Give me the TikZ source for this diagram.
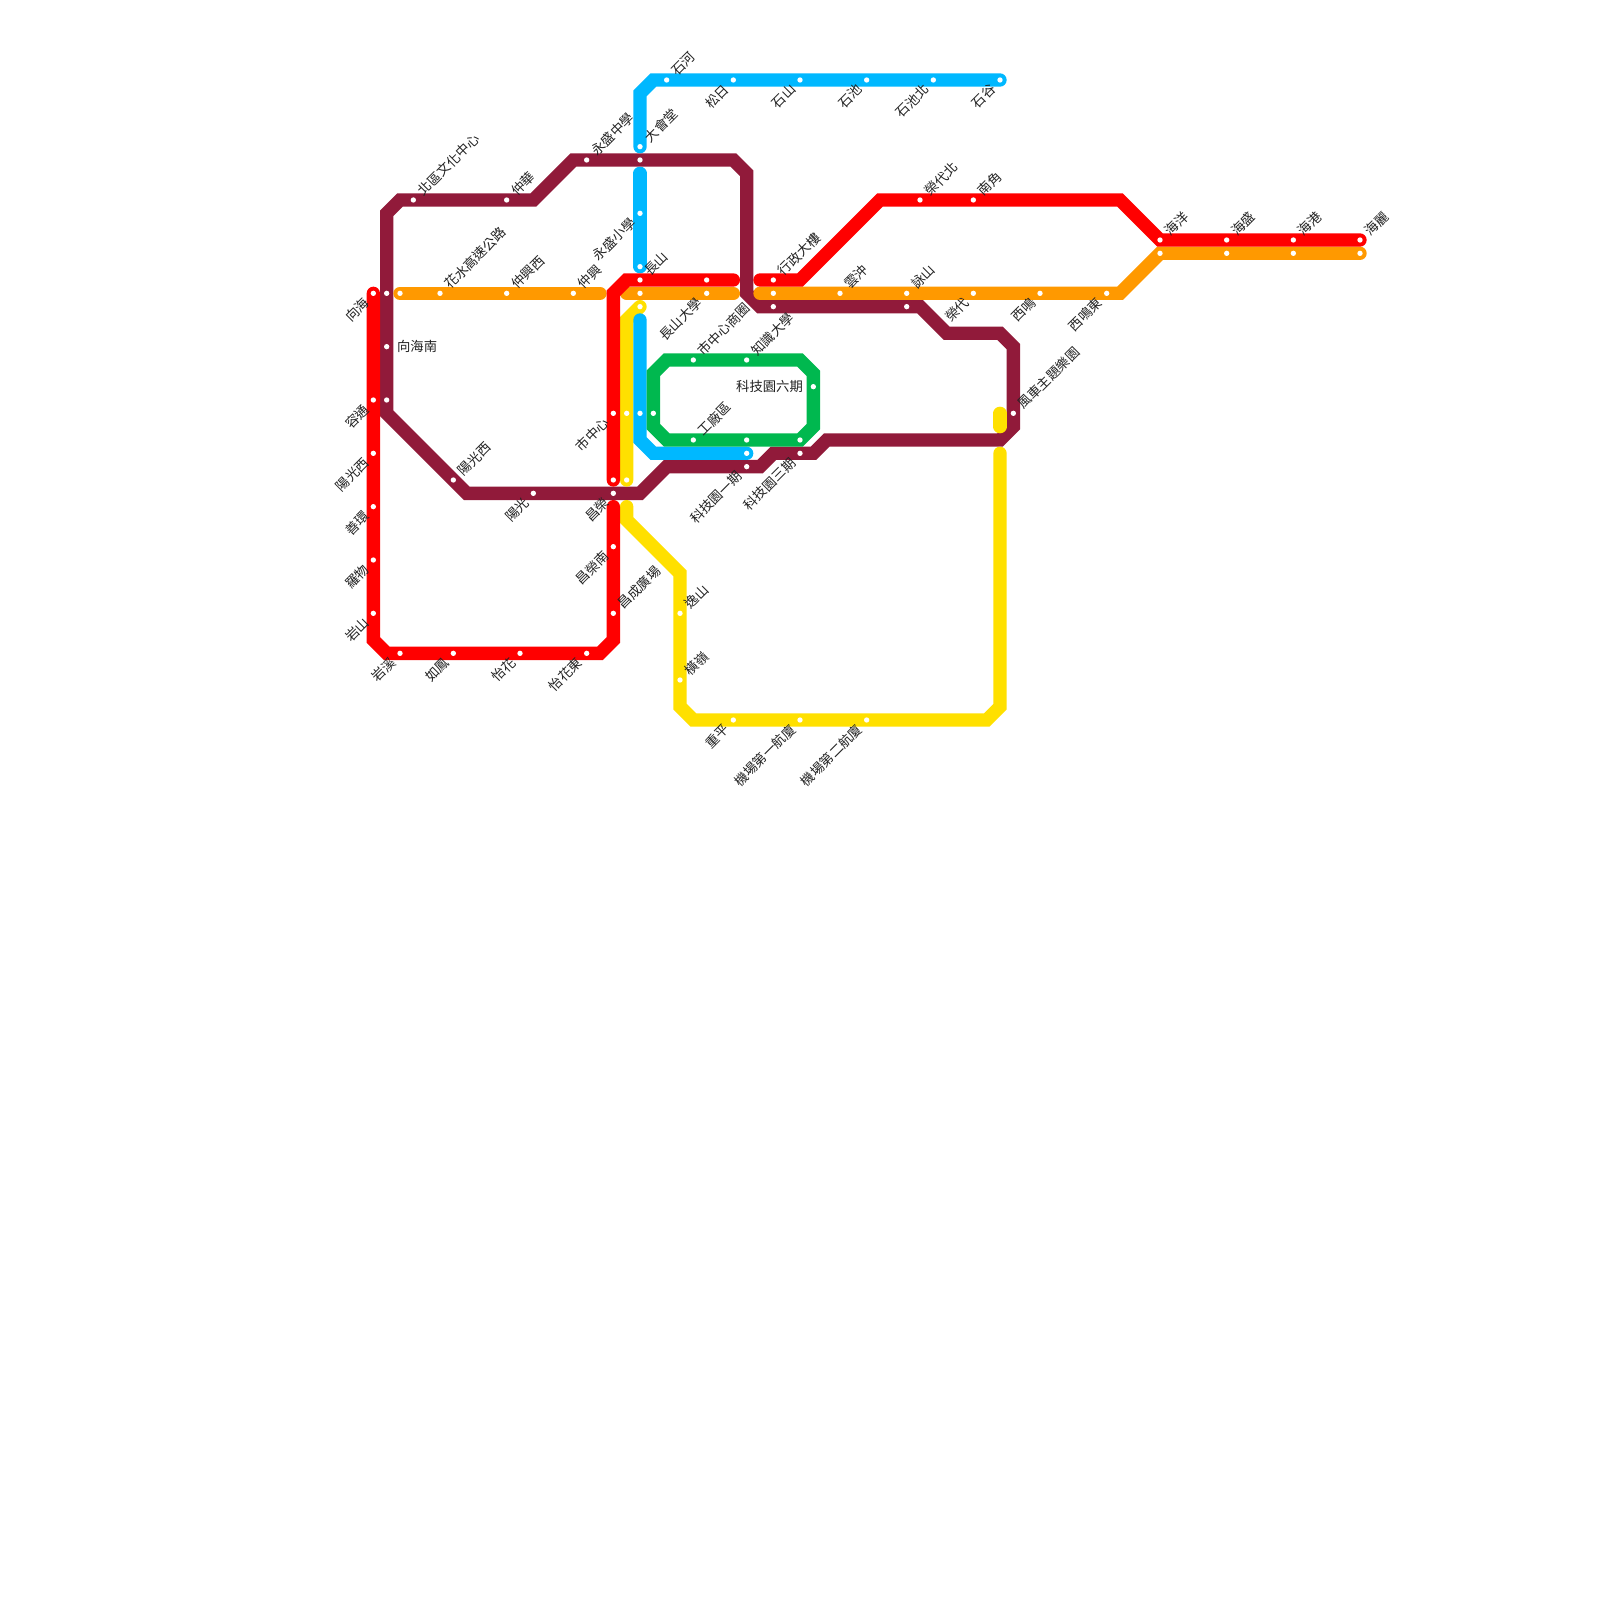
\documentclass[tikz,border=0pt]{standalone}
\usepackage{fontspec}
\setmainfont{Noto Sans CJK TC}
\usetikzlibrary{calc}
\pgfdeclarelayer{lines}
\pgfsetlayers{lines,main}
\definecolor{cred}{HTML}{FF0000}
\definecolor{corange}{HTML}{FF9900}
\definecolor{cmaroon}{HTML}{911A3A}
\definecolor{cblue}{HTML}{00B8FF}
\definecolor{cyellow}{HTML}{FFE000}
\definecolor{cgreen}{HTML}{00B84F}
\definecolor{ctext}{HTML}{222222}
\tikzset{
  metroline/.style={line width=0.2cm,line cap=round,line join=miter,miter limit=4},
  stationdot/.style={circle,fill=white,draw=none,inner sep=0pt,minimum size=0.08cm},
  stationname/.style={inner sep=0pt,text=ctext,font=\fontsize{5.69}{6.8}\selectfont},
  nameur/.style={stationname,anchor=west,rotate=45},
  namell/.style={stationname,anchor=east,rotate=45},
}
\newcommand{\D}[2]{\node[stationdot] (#1) at (#2) {};}
\newcommand{\UR}[3]{\D{#1}{#2}\node[nameur] (#1n) at ($(#1)+(0.5,-0.5)$) {#3};}
\newcommand{\LL}[3]{\D{#1}{#2}\node[namell] (#1n) at ($(#1)+(-0.5,0.5)$) {#3};}
\begin{document}
\begin{tikzpicture}[x=0.2cm,y=-0.2cm]
\useasboundingbox (0,0) rectangle (120,120);
% red stations
\LL{xianghai}{28,22}{向海}
\LL{rongtong}{28,30}{容通}
\LL{yangguangxiw}{28,34}{陽光西}
\LL{shanhuan}{28,38}{善環}
\LL{luowu}{28,42}{羅物}
\LL{yanshan}{28,46}{岩山}
\LL{yanxi}{30,49}{岩溪}
\LL{rufeng}{34,49}{如鳳}
\LL{yihua}{39,49}{怡花}
\LL{yihuae}{44,49}{怡花東}
\UR{changcheng}{46,46}{昌成廣場}
\LL{changrongs}{46,41}{昌榮南}
\D{cr}{46,36}
\LL{shizhongxin}{46,31}{市中心}
\UR{changshan}{48,21}{長山}
\D{cda}{53,21}
\UR{xingzheng}{58,21}{行政大樓}
\UR{rongdain}{69,15}{榮代北}
\UR{nanjiao}{73,15}{南角}
\UR{haiyang}{87,18}{海洋}
\UR{haisheng}{92,18}{海盛}
\UR{haigang}{97,18}{海港}
\UR{haili}{102,18}{海麗}
% orange stations
\D{ox}{29,22}
\D{oa}{30,22}
\UR{huashui}{33,22}{花水高速公路}
\UR{zhongxingw}{38,22}{仲興西}
\UR{zhongxing}{43,22}{仲興}
\D{oc}{48,22}
\LL{changshanu}{53,22}{長山大學}
\D{ozs}{58,22}
\UR{yunchong}{63,22}{雲沖}
\UR{yongshan}{68,22}{詠山}
\LL{rongdai}{73,22}{榮代}
\LL{ximing}{78,22}{西鳴}
\LL{ximinge}{83,22}{西鳴東}
\D{ohy}{87,19}
\D{ohs}{92,19}
\D{ohg}{97,19}
\D{ohl}{102,19}
% maroon stations
\node[stationdot] (xhs) at (29,26) {};
\node[stationname,anchor=west] (xhsn) at ($(xhs)+(0.75,0)$) {向海南};
\D{mrt}{29,30}
\UR{beiqu}{31,15}{北區文化中心}
\UR{zhonghua}{38,15}{仲華}
\UR{yszx}{44,12}{永盛中學}
\D{mdh}{48,12}
\D{mzd}{58,23}
\D{myo}{68,23}
\UR{fengche}{76,31}{風車主題樂園}
\LL{kj3}{60,34}{科技園三期}
\LL{kj1}{56,35}{科技園一期}
\LL{changrong}{46,37}{昌榮}
\LL{yangguang}{40,37}{陽光}
\UR{yangguangw}{34,36}{陽光西}
% blue stations
\UR{dahui}{48,11}{大會堂}
\UR{shihe}{50,6}{石河}
\LL{songri}{55,6}{松日}
\LL{shishan}{60,6}{石山}
\LL{shichi}{65,6}{石池}
\LL{shichin}{70,6}{石池北}
\LL{shigu}{75,6}{石谷}
\LL{ysxx}{48,16}{永盛小學}
\D{bcs}{48,20}
\D{bs}{48,31}
\D{bk}{56,34}
% yellow stations
\D{ya}{48,23}
\D{ys}{47,31}
\D{yb}{47,36}
\UR{yishan}{51,46}{逸山}
\UR{hengling}{51,51}{橫嶺}
\LL{chongping}{55,54}{重平}
\LL{jc1}{60,54}{機場第一航廈}
\LL{jc2}{65,54}{機場第二航廈}
% green stations
\D{gs}{49,31}
\UR{szxsq}{52,27}{市中心商圈}
\UR{zsdx}{56,27}{知識大學}
\node[stationdot] (kj6) at (61,29) {};
\node[stationname,anchor=east] (kj6n) at ($(kj6)+(-0.75,0)$) {科技園六期};
\UR{gcq}{52,33}{工廠區}
\D{gk}{56,33}
\D{gr}{60,33}
% free ends
\coordinate (redend1) at (46,38);
\coordinate (redend2) at (55,21);
\coordinate (redstart) at (57,21);
\coordinate (orgend1) at (45,22);
\coordinate (orgstart2) at (47,22);
\coordinate (orgend2) at (55,22);
\coordinate (orgstart3) at (57,22);
\coordinate (bluestart2) at (48,13);
\coordinate (bluestart3) at (48,24);
\coordinate (yelstart) at (47,38);
\coordinate (yelend) at (75,34);
\coordinate (yel3a) at (75,31);
\coordinate (yel3b) at (75,32);
\begin{pgfonlayer}{lines}
\fill[white] (0,0) rectangle (120,120);
% maroon
\draw[metroline,cmaroon] (29,16) -- (30,15) -- (40,15) -- (43,12) -- (55,12) -- (56,13) -- (56,22) -- (57,23) -- (69,23) -- (71,25) -- (75,25) -- (76,26) -- (76,32) -- (75,33) -- (62,33) -- (61,34) -- (58,34) -- (57,35) -- (50,35) -- (48,37) -- (35,37) -- (29,31) -- cycle;
% yellow
\draw[metroline,cyellow] (ya.center) -- (47,24) -- (yb.center);
\draw[metroline,cyellow] (yelstart) -- (47,39) -- (51,43) -- (51,53) -- (52,54) -- (74,54) -- (75,53) -- (yelend);
\draw[metroline,cyellow] (yel3a) -- (yel3b);
% blue
\draw[metroline,cblue] (dahui.center) -- (48,7) -- (49,6) -- (shigu.center);
\draw[metroline,cblue] (bluestart2) -- (bcs.center);
\draw[metroline,cblue] (bluestart3) -- (48,33) -- (49,34) -- (bk.center);
% green
\draw[metroline,cgreen] (49,28) -- (50,27) -- (60,27) -- (61,28) -- (61,32) -- (60,33) -- (50,33) -- (49,32) -- cycle;
% orange
\draw[metroline,corange] (oa.center) -- (orgend1);
\draw[metroline,corange] (orgstart2) -- (orgend2);
\draw[metroline,corange] (orgstart3) -- (84,22) -- (ohy.center) -- (ohl.center);
% red
\draw[metroline,cred] (xianghai.center) -- (28,48) -- (29,49) -- (45,49) -- (46,48) -- (redend1);
\draw[metroline,cred] (cr.center) -- (46,22) -- (47,21) -- (redend2);
\draw[metroline,cred] (redstart) -- (60,21) -- (66,15) -- (84,15) -- (haiyang.center) -- (haili.center);
\end{pgfonlayer}
\end{tikzpicture}
\end{document}
